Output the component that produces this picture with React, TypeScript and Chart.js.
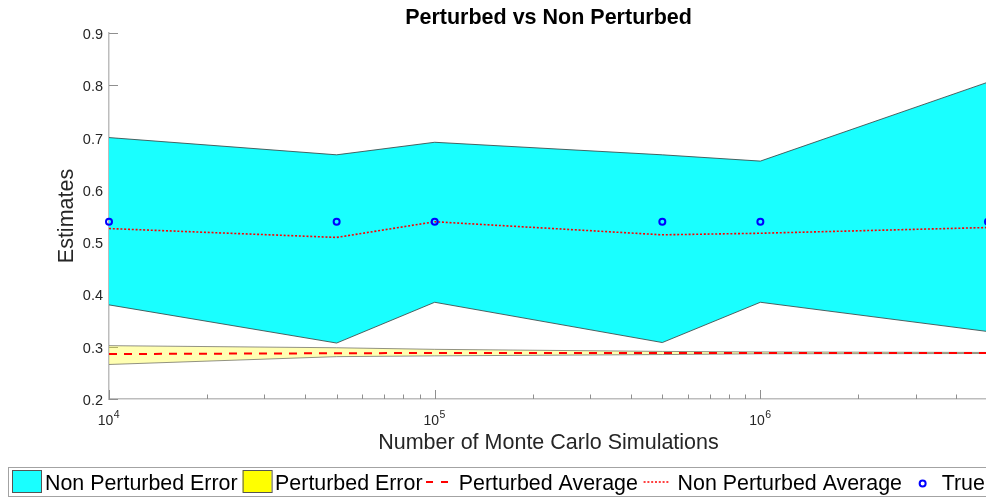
import React, { useEffect, useRef } from 'react';
import { Chart, registerables } from 'chart.js';

Chart.register(...registerables);

// ---------- data ----------
const simulations = [1e4, 5e4, 1e5, 5e5, 1e6, 5e6];
const nonPerturbedUpper = [0.700, 0.667, 0.691, 0.667, 0.655, 0.806];
const nonPerturbedLower = [0.380, 0.307, 0.385, 0.308, 0.385, 0.329];
const nonPerturbedAverage = [0.526, 0.509, 0.539, 0.514, 0.517, 0.528];
const perturbedUpper = [0.302, 0.298, 0.295, 0.291, 0.290, 0.289];
const perturbedLower = [0.266, 0.281, 0.2825, 0.285, 0.2865, 0.287];
const perturbedAverage = [0.286, 0.2875, 0.288, 0.288, 0.288, 0.288];
const trueValue = [0.539, 0.539, 0.539, 0.539, 0.539, 0.539];

const xMajorExponents = [4, 5, 6];
const xMinorTicks = [2e4, 3e4, 4e4, 5e4, 6e4, 7e4, 8e4, 9e4, 2e5, 3e5, 4e5, 5e5, 6e5, 7e5, 8e5, 9e5, 2e6, 3e6, 4e6];
const xTickBase = '10';

const titleText = 'Perturbed vs Non Perturbed';
const xTitle = 'Number of Monte Carlo Simulations';
const yTitle = 'Estimates';
const legendLabels = ['Non Perturbed Error', 'Perturbed Error', 'Perturbed Average', 'Non Perturbed Average', 'True'];

// ---------- styles ----------
const FONT = '"Liberation Sans", Arial, Helvetica, sans-serif';
const CYAN = '#19ffff';
const YELLOW_BAND = 'rgba(255,255,0,0.3)';
const AXIS = '#bdbdbd';
const TICK = '#8f8f8f';
const LABEL = '#262626';
const BIG = 21.5;
const LEGEND_SIZE = 21.4;

const pts = (arr: number[]) => simulations.map((s, i) => ({ x: s, y: arr[i] }));

const decorPlugin = {
  id: 'decor',
  beforeDatasetsDraw(chart: any) {
    const { ctx, chartArea, scales } = chart;
    const x = scales.x;
    const y = scales.y;
    ctx.save();
    ctx.strokeStyle = TICK;
    ctx.lineWidth = 1;
    ctx.beginPath();
    y.ticks.forEach((t: any) => {
      const py = Math.round(y.getPixelForValue(t.value)) + 0.5;
      ctx.moveTo(chartArea.left, py);
      ctx.lineTo(chartArea.left + 9, py);
    });
    xMajorExponents.forEach((e) => {
      const px = Math.round(x.getPixelForValue(Math.pow(10, e))) + 0.5;
      ctx.moveTo(px, chartArea.bottom);
      ctx.lineTo(px, chartArea.bottom - 9);
    });
    xMinorTicks.forEach((v) => {
      const px = Math.round(x.getPixelForValue(v)) + 0.5;
      ctx.moveTo(px, chartArea.bottom);
      ctx.lineTo(px, chartArea.bottom - 4.5);
    });
    ctx.stroke();
    ctx.restore();
  },
  afterDraw(chart: any) {
    const { ctx, chartArea, scales } = chart;
    const x = scales.x;
    ctx.save();
    // x tick labels with superscript exponents
    ctx.fillStyle = LABEL;
    ctx.textAlign = 'left';
    ctx.textBaseline = 'alphabetic';
    xMajorExponents.forEach((e) => {
      const px = x.getPixelForValue(Math.pow(10, e));
      ctx.font = `14px ${FONT}`;
      const wb = ctx.measureText(xTickBase).width;
      ctx.font = `10.5px ${FONT}`;
      const ws = ctx.measureText(String(e)).width;
      const start = px - (wb + ws) / 2 - 0.5;
      ctx.font = `14px ${FONT}`;
      ctx.fillText(xTickBase, start, chartArea.bottom + 25.5);
      ctx.font = `10.5px ${FONT}`;
      ctx.fillText(String(e), start + wb + 0.5, chartArea.bottom + 19);
    });

    // legend
    const top = 467.5;
    const bottom = 496.5;
    const midY = 482;
    ctx.fillStyle = '#ffffff';
    ctx.fillRect(8.5, top, 1000, bottom - top);
    ctx.strokeStyle = '#a3a3a3';
    ctx.lineWidth = 1;
    ctx.setLineDash([]);
    ctx.strokeRect(8.5, top, 1000, bottom - top);

    ctx.font = `${LEGEND_SIZE}px ${FONT}`;
    ctx.textBaseline = 'alphabetic';
    const textY = 489.5;
    const tw = (s: string) => ctx.measureText(s).width;
    let cx = 12;
    // item 1: cyan box
    ctx.fillStyle = CYAN;
    ctx.fillRect(cx, 470.5, 29, 22);
    ctx.strokeStyle = '#555555';
    ctx.strokeRect(cx + 0.5, 470.5, 29, 22);
    ctx.fillStyle = '#000000';
    ctx.fillText(legendLabels[0], cx + 33, textY);
    cx = cx + 33 + tw(legendLabels[0]) + 5;
    // item 2: yellow box
    ctx.fillStyle = '#ffff00';
    ctx.fillRect(cx, 470.5, 29, 22);
    ctx.strokeStyle = '#555555';
    ctx.strokeRect(cx + 0.5, 470.5, 29, 22);
    ctx.fillStyle = '#000000';
    ctx.fillText(legendLabels[1], cx + 32.5, textY);
    cx = cx + 32.5 + tw(legendLabels[1]) + 3.5;
    // item 3: dashed line
    ctx.strokeStyle = '#ff0000';
    ctx.lineWidth = 2;
    ctx.setLineDash([7, 8]);
    ctx.beginPath();
    ctx.moveTo(cx, midY);
    ctx.lineTo(cx + 22, midY);
    ctx.stroke();
    ctx.setLineDash([]);
    ctx.fillStyle = '#000000';
    ctx.fillText(legendLabels[2], cx + 32.7, textY);
    cx = cx + 32.7 + tw(legendLabels[2]) + 5.7;
    // item 4: dotted line
    ctx.strokeStyle = '#ff0000';
    ctx.lineWidth = 1.6;
    ctx.setLineDash([2, 1.8]);
    ctx.beginPath();
    ctx.moveTo(cx, midY);
    ctx.lineTo(cx + 25, midY);
    ctx.stroke();
    ctx.setLineDash([]);
    ctx.fillStyle = '#000000';
    ctx.fillText(legendLabels[3], cx + 34, textY);
    cx = cx + 34 + tw(legendLabels[3]) + 20.7;
    // item 5: circle
    ctx.strokeStyle = '#0000ff';
    ctx.lineWidth = 2;
    ctx.beginPath();
    ctx.arc(cx, 483.5, 3, 0, Math.PI * 2);
    ctx.stroke();
    ctx.fillStyle = '#000000';
    ctx.fillText(legendLabels[4], cx + 19, textY);
    ctx.restore();
  },
};

export default function App() {
  const canvasRef = useRef<HTMLCanvasElement | null>(null);

  useEffect(() => {
    const canvas = canvasRef.current;
    if (!canvas) return;
    const edgeCyan = 'rgba(60,70,70,0.85)';
    const edgeYellow = 'rgba(110,110,100,0.75)';
    const chart = new Chart(canvas, {
      type: 'line',
      data: {
        datasets: [
          {
            label: legendLabels[0],
            data: pts(nonPerturbedUpper),
            borderColor: edgeCyan,
            borderWidth: 1,
            pointRadius: 0,
            backgroundColor: CYAN,
            fill: { target: 1 },
            order: 10,
          } as any,
          {
            label: legendLabels[0] + ' lower',
            data: pts(nonPerturbedLower),
            borderColor: edgeCyan,
            borderWidth: 1,
            pointRadius: 0,
            fill: false,
            order: 9,
          },
          {
            label: legendLabels[1],
            data: pts(perturbedUpper),
            borderColor: edgeYellow,
            borderWidth: 1,
            pointRadius: 0,
            backgroundColor: YELLOW_BAND,
            fill: { target: 3 },
            order: 8,
          } as any,
          {
            label: legendLabels[1] + ' lower',
            data: pts(perturbedLower),
            borderColor: edgeYellow,
            borderWidth: 1,
            pointRadius: 0,
            fill: false,
            order: 7,
          },
          {
            label: legendLabels[2],
            data: pts(perturbedAverage),
            borderColor: '#ff0000',
            borderWidth: 2,
            borderDash: [8, 7],
            pointRadius: 0,
            fill: false,
            order: 6,
          },
          {
            label: legendLabels[3],
            data: pts(nonPerturbedAverage),
            borderColor: '#ff0000',
            borderWidth: 1.6,
            borderDash: [2, 1.8],
            pointRadius: 0,
            fill: false,
            order: 5,
          },
          {
            label: legendLabels[4],
            data: pts(trueValue),
            showLine: false,
            pointStyle: 'circle',
            pointRadius: 3,
            pointBorderWidth: 2,
            pointBorderColor: '#0000ff',
            pointBackgroundColor: 'rgba(0,0,0,0)',
            borderColor: '#0000ff',
            fill: false,
            clip: false,
            order: 4,
          } as any,
        ],
      },
      plugins: [decorPlugin],
      options: {
        animation: false,
        responsive: true,
        maintainAspectRatio: false,
        events: [],
        layout: { autoPadding: false, padding: { left: 0, right: 0, top: 0, bottom: 0 } },
        elements: { line: { tension: 0 } },
        plugins: {
          legend: { display: false },
          tooltip: { enabled: false },
          title: {
            display: true,
            text: titleText,
            fullSize: false,
            color: '#000000',
            font: { family: FONT, size: BIG, weight: 'bold' },
            padding: { top: 5.5, bottom: 1.7 },
          },
        },
        scales: {
          x: {
            type: 'logarithmic',
            min: 1e4,
            max: 5e6,
            grid: { display: false },
            border: { display: true, color: AXIS, width: 1.5 },
            ticks: { display: false },
            title: {
              display: true,
              text: xTitle,
              color: LABEL,
              font: { family: FONT, size: BIG },
              padding: { top: 0, bottom: 42.1 },
            },
            afterFit: (scale: any) => {
              scale.height = 99;
            },
          },
          y: {
            type: 'linear',
            min: 0.2,
            max: 0.9,
            grid: { display: false, drawTicks: false },
            border: { display: true, color: AXIS, width: 1.5 },
            ticks: {
              stepSize: 0.1,
              padding: 6,
              labelOffset: 2,
              color: LABEL,
              font: { family: FONT, size: 14.5 },
              callback: (v: any) => Number(v).toFixed(1),
            },
            title: {
              display: true,
              text: yTitle,
              color: LABEL,
              font: { family: FONT, size: BIG },
              padding: { top: 54.1, bottom: 0 },
            },
            afterFit: (scale: any) => {
              scale.width = 109;
            },
          },
        },
      } as any,
    });
    return () => chart.destroy();
  }, []);

  return (
    <div
      style={{
        position: 'fixed',
        left: 0,
        top: 0,
        width: 986,
        height: 498,
        overflow: 'hidden',
        background: '#ffffff',
      }}
    >
      <div style={{ position: 'absolute', left: 0, top: 0, width: 988, height: 498 }}>
        <canvas ref={canvasRef} />
      </div>
    </div>
  );
}
